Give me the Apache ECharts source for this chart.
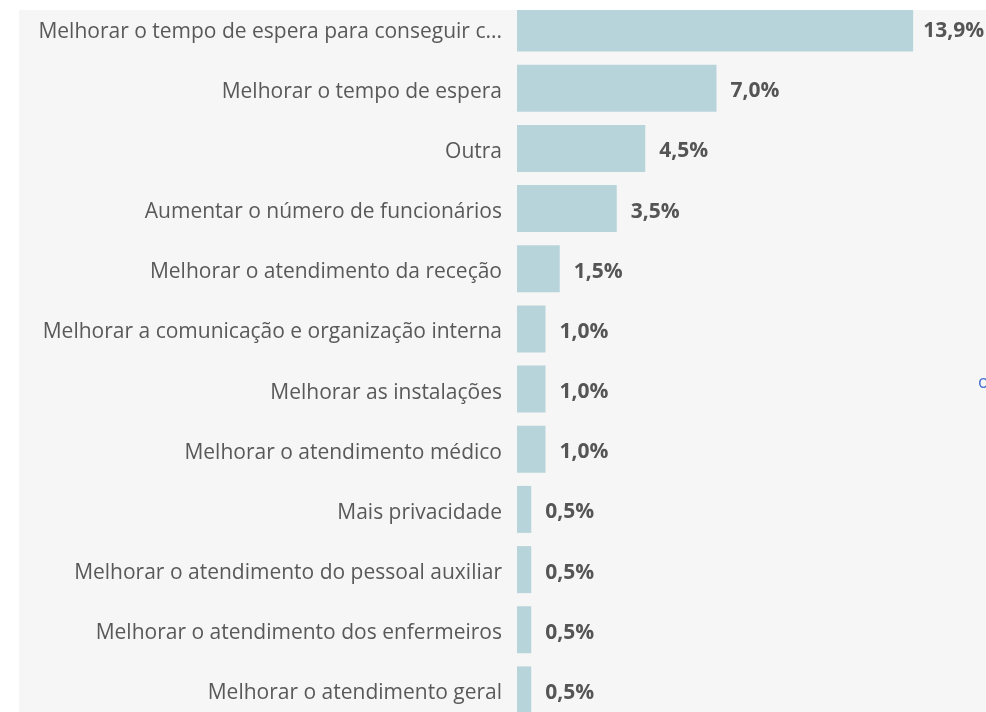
<!DOCTYPE html>
<html>
<head>
<meta charset="utf-8">
<script src="https://cdn.jsdelivr.net/npm/echarts@6/dist/echarts.min.js"></script>
<style>
  html, body { margin: 0; padding: 0; background: #ffffff; }
  #chart {
    position: absolute;
    left: 19px;
    top: 10px;
    width: 967px;
    height: 702px;
  }
</style>
</head>
<body>
<div id="chart"></div>
<script>
const categories = [
  "Melhorar o tempo de espera para conseguir c...",
  "Melhorar o tempo de espera",
  "Outra",
  "Aumentar o número de funcionários",
  "Melhorar o atendimento da receção",
  "Melhorar a comunicação e organização interna",
  "Melhorar as instalações",
  "Melhorar o atendimento médico",
  "Mais privacidade",
  "Melhorar o atendimento do pessoal auxiliar",
  "Melhorar o atendimento dos enfermeiros",
  "Melhorar o atendimento geral"
];
const values = [13.9, 7.0, 4.5, 3.5, 1.5, 1.0, 1.0, 1.0, 0.5, 0.5, 0.5, 0.5];

// the longest bar's label sits a bit closer so it stays inside the frame
const barData = values.map((v, i) =>
  i === 0 ? { value: v, label: { distance: 10 } } : v
);

let myChart = echarts.init(document.getElementById("chart"));
myChart.setOption({
  backgroundColor: "#f6f6f6",
  animation: false,
  grid: {
    left: 498,
    top: -12,
    width: 456,
    height: 722,
    outerBoundsMode: "none",
  },
  xAxis: {
    type: "value",
    min: 0,
    max: 16,
    show: false,
  },
  yAxis: {
    type: "category",
    data: categories,
    inverse: true,
    axisLine: { show: false },
    axisTick: { show: false },
    axisLabel: {
      margin: 15,
      formatter: (v) => "{t|" + v + "}",
      rich: {
        t: {
          padding: [7, 0, 0, 0],
          color: "#595959",
          fontFamily: "Open Sans",
          fontSize: 21,
        },
      },
    },
  },
  series: [
    {
      type: "bar",
      data: barData,
      barWidth: 47,
      itemStyle: { color: "#b7d4da" },
      label: {
        show: true,
        position: "right",
        distance: 14,
        offset: [0, 3],
        color: "#555555",
        fontFamily: "Open Sans",
        fontWeight: "bold",
        fontSize: 21,
        formatter: (p) => p.value.toFixed(1).replace(".", ",") + "%",
      },
    },
  ],
  graphic: [
    {
      type: "text",
      left: 959,
      top: 364,
      style: {
        text: "o",
        fill: "#4a72d0",
        font: "18px Open Sans",
      },
    },
  ],
});
</script>
</body>
</html>
